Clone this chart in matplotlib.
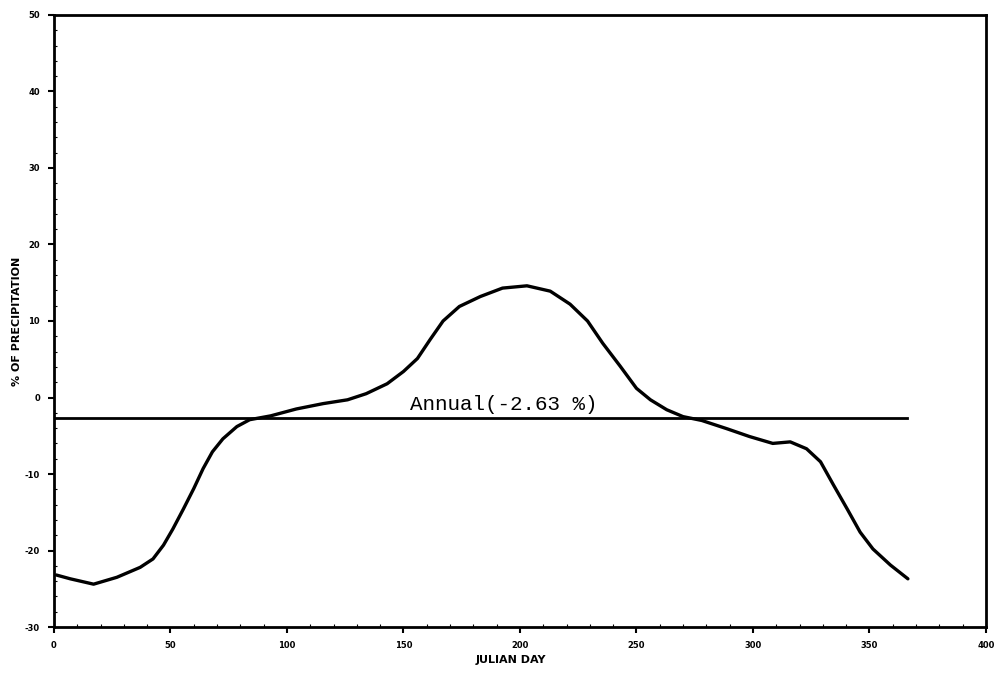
import matplotlib
matplotlib.use("Agg")
import matplotlib.pyplot as plt
import numpy as np

# Data
days = [1, 7, 17, 27, 37, 42.5, 47, 51, 55.5, 60, 64, 68, 72.5, 78.5, 84, 93,
        104, 115.5, 126, 134, 143, 150, 156, 161.5, 167, 174, 183, 192.5, 203,
        213, 221.5, 229, 235.5, 243, 250, 256, 263, 270, 278, 289, 298.5, 308.5,
        316, 323, 329, 334.5, 340.5, 346, 351.5, 359, 366.5]
pct = [-23.2, -23.7, -24.4, -23.5, -22.2, -21.1, -19.3, -17.2, -14.6, -11.9,
       -9.3, -7.1, -5.4, -3.8, -2.9, -2.4, -1.5, -0.8, -0.3, 0.5, 1.8, 3.4, 5.1,
       7.6, 10.0, 11.9, 13.2, 14.3, 14.6, 13.9, 12.2, 10.0, 7.1, 4.1, 1.2, -0.3,
       -1.6, -2.5, -3.0, -4.1, -5.1, -6.0, -5.8, -6.7, -8.4, -11.4, -14.6, -17.6,
       -19.8, -21.9, -23.7]
annual_value = -2.63
annual_span = [0, 366]
xticks = [0, 50, 100, 150, 200, 250, 300, 350, 400]
yticks = [-30, -20, -10, 0, 10, 20, 30, 40, 50]

fig = plt.figure(figsize=(9.94, 6.78), dpi=100)
ax = fig.add_axes([0.0543, 0.0752, 0.9376, 0.9027])

ax.plot(days, pct, color="black", lw=2.4, solid_capstyle="round",
        solid_joinstyle="round")
ax.plot(annual_span, [annual_value, annual_value], color="black", lw=2.0)
ax.text(153, annual_value + 0.45, "Annual(-2.63 %)", family="Liberation Mono",
        fontsize=15, va="bottom", ha="left", color="black")

ax.set_xlim(0, 400)
ax.set_ylim(-30, 50)
ax.set_xticks(xticks)
ax.set_yticks(yticks)
ax.set_xticklabels([str(t) for t in xticks], fontsize=6, fontweight="bold")
ax.set_yticklabels([str(t) for t in yticks], fontsize=6, fontweight="bold")
ax.set_xticks(np.arange(0, 401, 10), minor=True)
ax.set_yticks(np.arange(-30, 51, 2), minor=True)
ax.tick_params(which="major", direction="out", length=4, width=1.5, pad=6)
ax.tick_params(which="minor", direction="in", length=2, width=0.8)
for s in ax.spines.values():
    s.set_linewidth(2.0)

ax.set_xlabel("JULIAN DAY", fontsize=8, fontweight="bold")
ax.set_ylabel("% OF PRECIPITATION", fontsize=8, fontweight="bold")
ax.xaxis.set_label_coords(0.49, -0.046)
ax.yaxis.set_label_coords(-0.034, 0.5)

fig.savefig("out.png", dpi=100)
